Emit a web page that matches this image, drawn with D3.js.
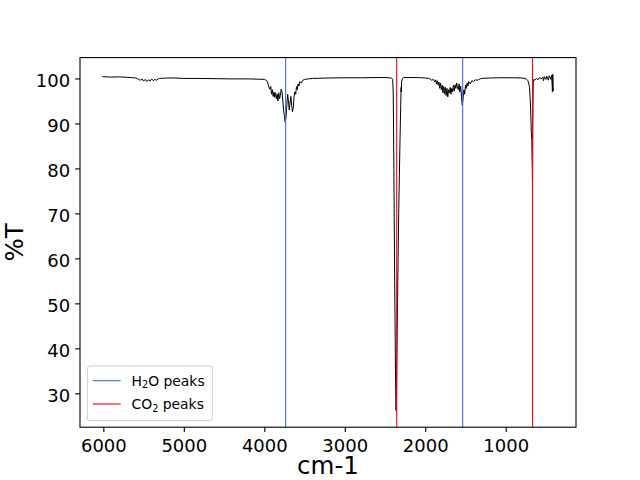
<!DOCTYPE html>
<html>
<head>
<meta charset="utf-8">
<script src="https://cdn.jsdelivr.net/npm/d3@7"></script>
<style>
  body { margin: 0; background: #fff; }
  svg { display: block; font-family: "DejaVu Sans", sans-serif; }
</style>
</head>
<body>
<svg id="chart" width="640" height="480"></svg>
<script>
// ---- data ----
const wavenumber = [
  6010, 5900, 5800, 5700, 5650, 5600, 5560, 5540, 5520, 5500, 5480, 5460, 5440, 5420, 5400, 5380, 5360, 5340, 5320, 5300,
  5250, 5200, 5100, 5000, 4900, 4800, 4600, 4400, 4200, 4100, 4000, 3980, 3960, 3950, 3940, 3930, 3920, 3910, 3900, 3890,
  3880, 3870, 3860, 3850, 3840, 3830, 3820, 3810, 3800, 3790, 3780, 3770, 3760, 3750, 3740, 3730, 3720, 3710, 3700, 3690,
  3680, 3670, 3660, 3650, 3640, 3630, 3620, 3610, 3600, 3590, 3580, 3570, 3560, 3540, 3520, 3500, 3450, 3400, 3200, 3000,
  2800, 2600, 2500, 2420, 2405, 2398, 2390, 2380, 2370, 2364, 2358, 2352, 2345, 2330, 2315, 2305, 2300, 2298, 2295, 2285,
  2270, 2200, 2100, 2000, 1950, 1920, 1900, 1880, 1870, 1860, 1850, 1840, 1830, 1820, 1810, 1800, 1790, 1780, 1770, 1760,
  1750, 1740, 1730, 1720, 1710, 1700, 1690, 1680, 1670, 1660, 1650, 1640, 1630, 1620, 1610, 1600, 1590, 1580, 1570, 1560,
  1550, 1540, 1530, 1520, 1510, 1500, 1490, 1480, 1470, 1460, 1440, 1420, 1400, 1380, 1350, 1320, 1300, 1200, 1100, 1000,
  900, 800, 760, 740, 725, 715, 705, 698, 690, 682, 676, 670, 667, 664, 661, 658, 650, 640, 620, 600,
  580, 560, 540, 530, 520, 510, 500, 490, 480, 470, 460, 450, 440, 430, 425, 420, 415, 410, 407
];
const transmittance = [
  100.4, 100.3, 100.35, 100.25, 100.2, 100.1, 99.8, 99.6, 99.9, 99.4, 99.8, 99.3, 99.7, 99.4, 99.9, 99.5, 99.8, 99.6, 99.9, 100.0,
  100.05, 100.1, 100.1, 100.0, 100.0, 100.0, 99.95, 99.9, 99.9, 99.85, 99.8, 99.6, 99.3, 98.5, 98.0, 97.6, 98.2, 96.5, 97.5, 96.0,
  97.0, 95.8, 96.8, 95.5, 96.5, 95.0, 96.8, 95.5, 96.2, 97.6, 97.0, 95.0, 93.0, 91.5, 90.3, 91.5, 94.0, 96.5, 95.0, 93.0,
  94.5, 96.0, 94.0, 92.6, 93.5, 96.0, 97.0, 96.5, 98.2, 97.5, 98.8, 98.3, 99.3, 99.0, 99.6, 99.8, 99.9, 100.0, 100.1, 100.15,
  100.15, 100.2, 100.2, 100.1, 99.8, 97.0, 80.0, 55.0, 35.0, 26.2, 28.0, 38.5, 50.0, 70.0, 85.0, 94.0, 98.0, 97.0, 99.2, 99.9,
  100.2, 100.2, 100.2, 100.1, 100.0, 99.6, 99.8, 99.2, 99.7, 98.8, 99.5, 98.5, 99.2, 97.8, 99.0, 97.5, 98.5, 96.8, 98.2, 96.5,
  98.0, 96.2, 97.8, 95.9, 97.5, 96.8, 98.0, 96.5, 97.8, 97.0, 98.5, 97.2, 98.6, 97.8, 99.0, 98.0, 97.5, 98.8, 97.0, 98.3,
  96.0, 94.0, 95.5, 97.5, 96.5, 98.5, 97.8, 99.0, 98.3, 99.3, 98.8, 99.5, 99.3, 99.7, 99.6, 99.9, 100.0, 100.1, 100.15, 100.15,
  100.15, 100.1, 100.0, 99.8, 99.5, 99.0, 98.0, 96.0, 93.0, 88.0, 86.2, 80.0, 75.3, 88.0, 95.0, 99.2, 99.8, 99.6, 100.0, 99.7,
  100.2, 99.9, 100.3, 99.5, 100.4, 100.1, 99.8, 100.5, 100.2, 99.6, 100.6, 100.3, 99.8, 100.7, 99.2, 97.0, 100.9, 98.0, 97.2
];
const peakLabels = ["H2O peaks", "CO2 peaks"];
const peakColors = ["#3f6fe6", "#ff0000"];
const h2oPeaks = [3735, 1535];
const co2Peaks = [2355, 667];
const xTicks = [6000, 5000, 4000, 3000, 2000, 1000];
const yTicks = [30, 40, 50, 60, 70, 80, 90, 100];

// ---- layout ----
const svg = d3.select("#chart");
const L = 80, R = 576, T = 57.6, B = 427.2;

function padded(ext) { const s = ext[1] - ext[0]; return [ext[0] - 0.05 * s, ext[1] + 0.05 * s]; }
const xExt = padded(d3.extent(wavenumber));
const yExt = padded(d3.extent(transmittance));
const x = d3.scaleLinear().domain([xExt[1], xExt[0]]).range([L, R]);
const y = d3.scaleLinear().domain(yExt).range([B, T]);

const pts = wavenumber.map((w, i) => [w, transmittance[i]]);

svg.append("clipPath").attr("id", "clip")
  .append("rect").attr("x", L).attr("y", T).attr("width", R - L).attr("height", B - T);

const plot = svg.append("g").attr("clip-path", "url(#clip)");
plot.append("path")
  .datum(pts)
  .attr("fill", "none")
  .attr("stroke", "#000")
  .attr("stroke-width", 1)
  .attr("stroke-linejoin", "round")
  .attr("d", d3.line().x(d => x(d[0])).y(d => y(d[1])));

const vlines = [];
h2oPeaks.forEach(p => vlines.push({ p, c: peakColors[0] }));
co2Peaks.forEach(p => vlines.push({ p, c: peakColors[1] }));
plot.selectAll("line.vl").data(vlines).join("line")
  .attr("class", "vl")
  .attr("x1", d => x(d.p)).attr("x2", d => x(d.p))
  .attr("y1", T).attr("y2", B)
  .attr("stroke", d => d.c).attr("stroke-width", 1.1);

// axes
const xAxis = d3.axisBottom(x).tickValues(xTicks).tickSize(4.9).tickPadding(4).tickFormat(d3.format("d"));
const gx = svg.append("g").attr("transform", `translate(0,${B})`).call(xAxis);
gx.select(".domain").remove();
gx.selectAll(".tick line").attr("stroke", "#000").attr("stroke-width", 1.1);
gx.selectAll(".tick text").attr("font-size", 18).attr("fill", "#000")
  .attr("font-family", "DejaVu Sans").attr("dy", 0).attr("y", 24.5);

const yAxis = d3.axisLeft(y).tickValues(yTicks).tickSize(4.9).tickPadding(4.9).tickFormat(d3.format("d"));
const gy = svg.append("g").attr("transform", `translate(${L},0)`).call(yAxis);
gy.select(".domain").remove();
gy.selectAll(".tick line").attr("stroke", "#000").attr("stroke-width", 1.1);
gy.selectAll(".tick text").attr("font-size", 18).attr("fill", "#000")
  .attr("font-family", "DejaVu Sans").attr("dy", 8.2).attr("x", -9.8);

// spines
svg.append("rect").attr("x", L).attr("y", T).attr("width", R - L).attr("height", B - T)
  .attr("fill", "none").attr("stroke", "#000").attr("stroke-width", 1.1);

// axis labels
svg.append("text").attr("x", (L + R) / 2).attr("y", 474)
  .attr("text-anchor", "middle").attr("font-size", 24.5).text("cm-1");
svg.append("text").attr("transform", `translate(23,${(T + B) / 2}) rotate(-90)`)
  .attr("text-anchor", "middle").attr("font-size", 24.5).text("%T");

// legend
const lg = svg.append("g");
lg.append("rect").attr("x", 87.3).attr("y", 366).attr("width", 125).attr("height", 54.7)
  .attr("rx", 2.8).attr("fill", "#fff").attr("fill-opacity", 0.8)
  .attr("stroke", "#cccccc").attr("stroke-width", 1);
peakLabels.forEach((lab, i) => {
  const cy = 380.7 + i * 23.3;
  lg.append("line").attr("x1", 92.7).attr("x2", 120.7).attr("y1", cy).attr("y2", cy)
    .attr("stroke", peakColors[i]).attr("stroke-width", 1.1);
  const m = lab.match(/^([A-Z]+)(\d)(.*)$/);
  const t = lg.append("text").attr("x", 131.5).attr("y", cy + 5).attr("font-size", 13.9);
  t.append("tspan").text(m[1]);
  t.append("tspan").attr("font-size", 9.7).attr("dy", 2.5).text(m[2]);
  t.append("tspan").attr("dy", -2.5).text(m[3]);
});
</script>
</body>
</html>
